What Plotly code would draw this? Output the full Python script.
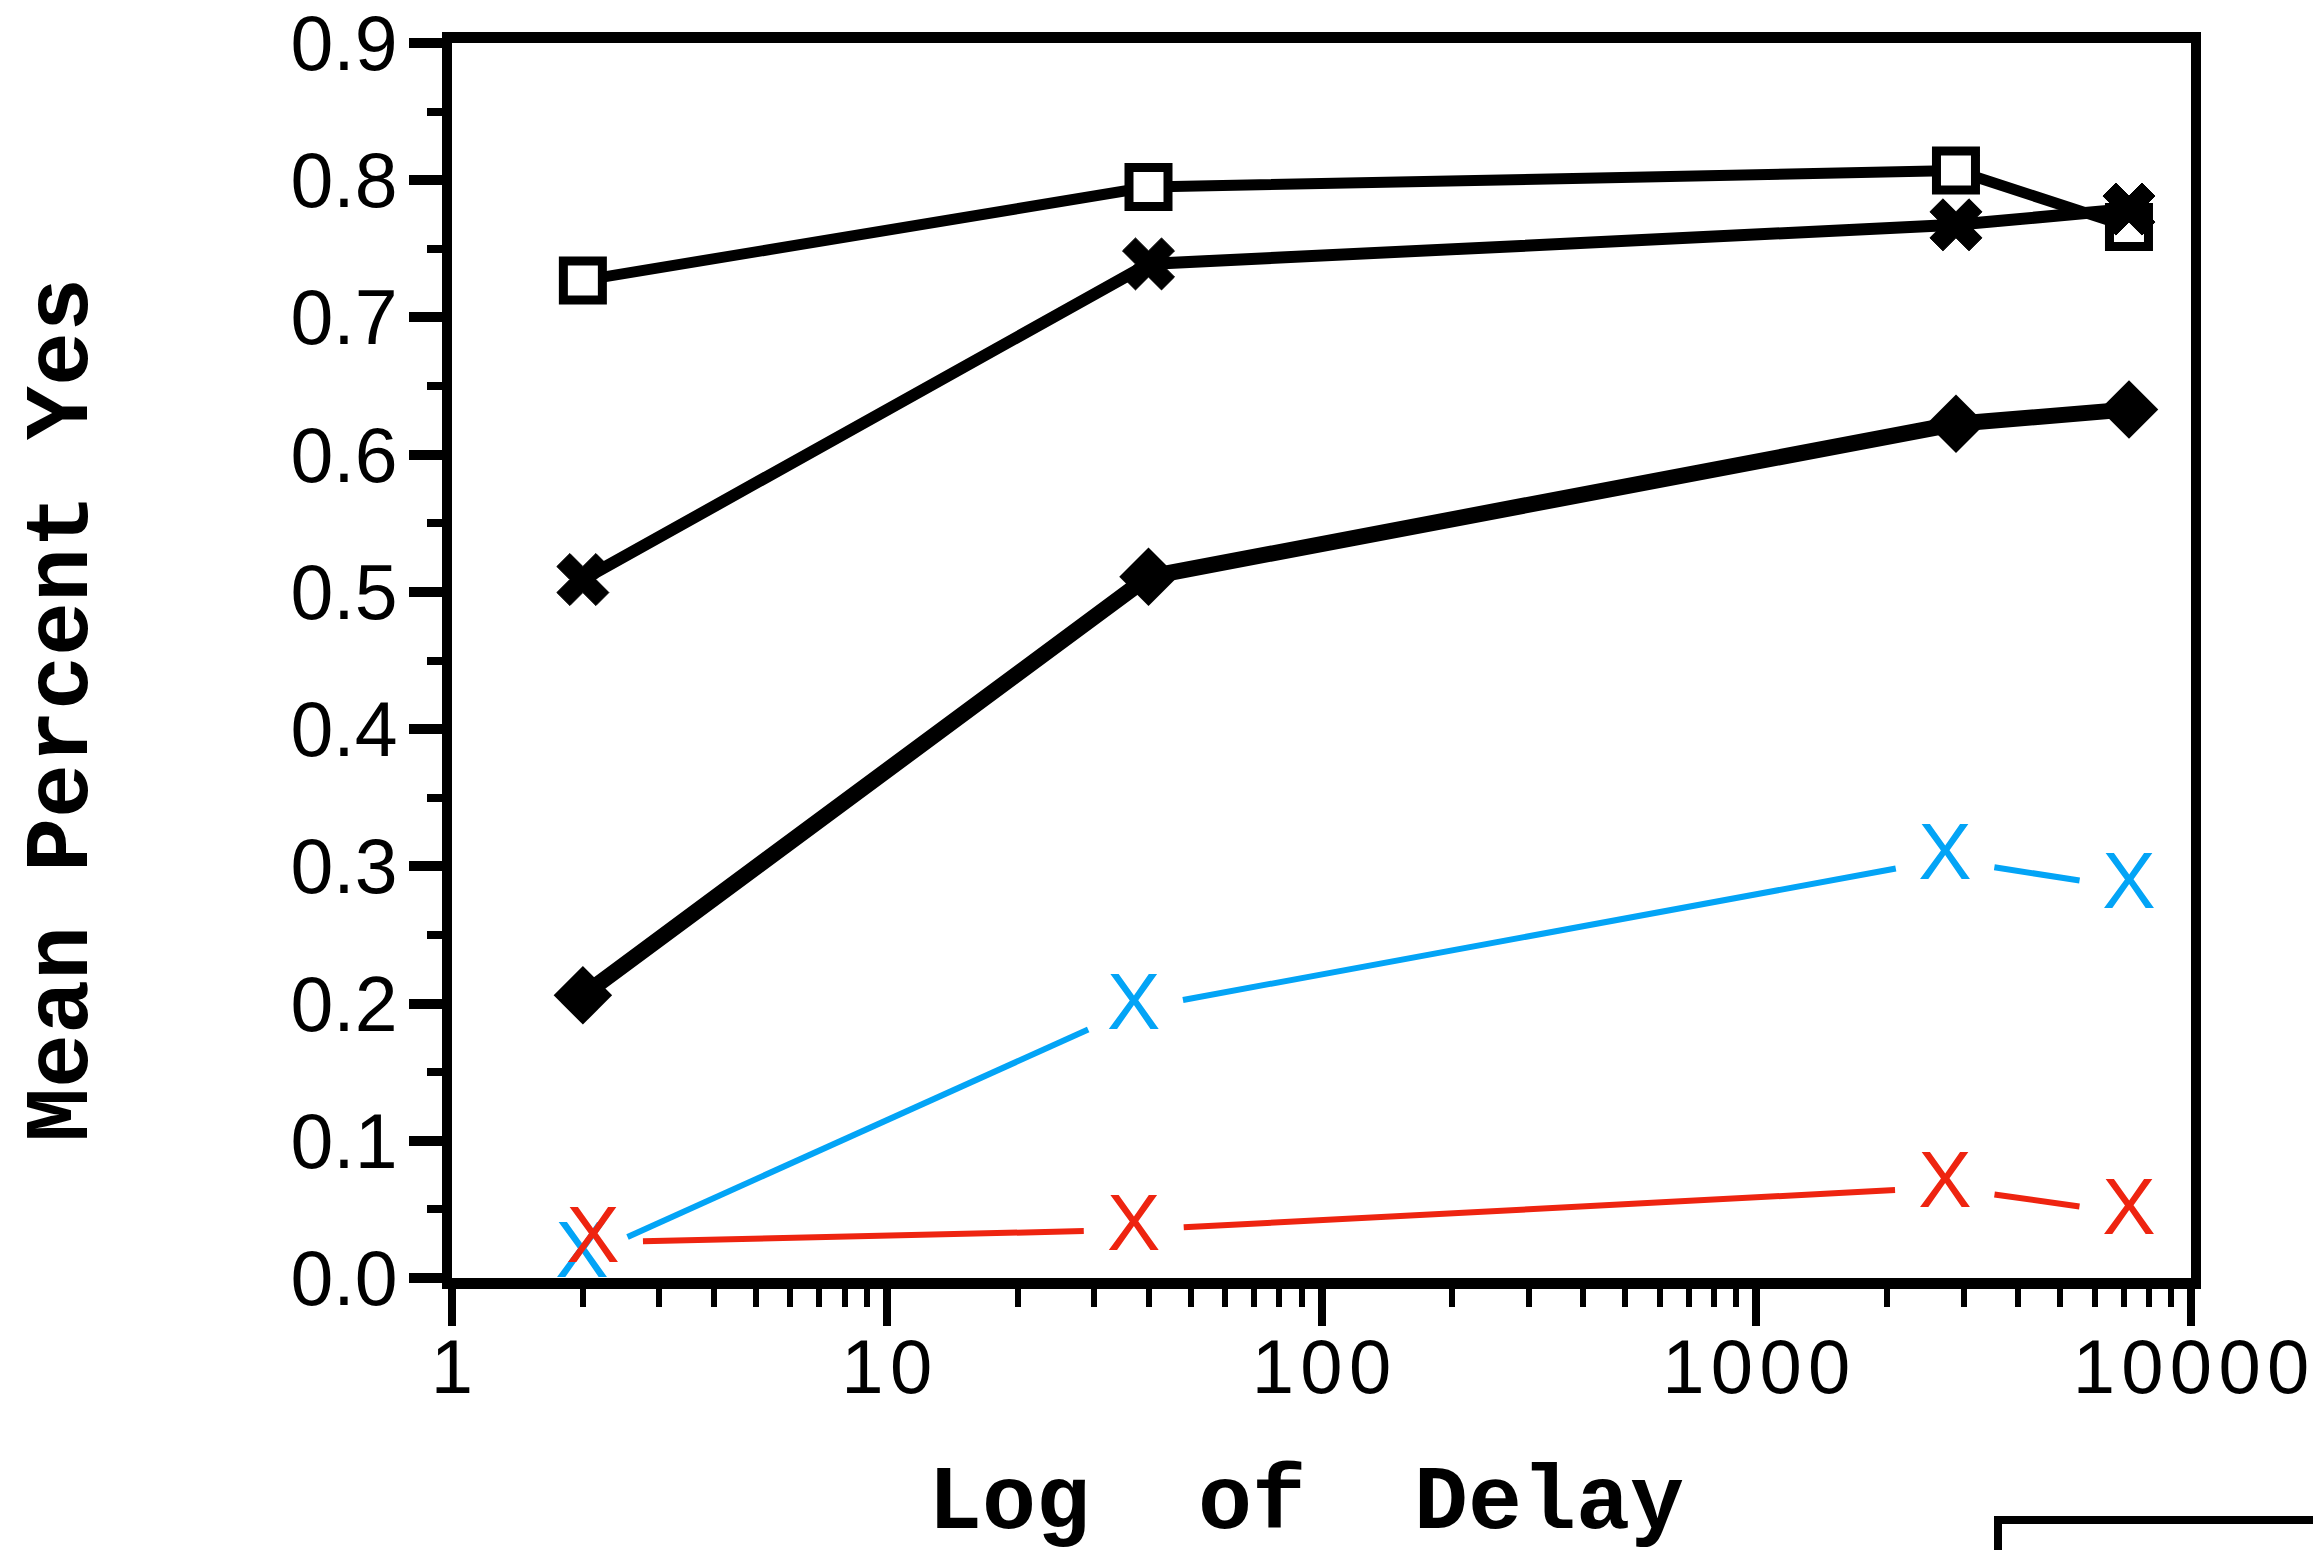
import math
import plotly.graph_objects as go

# ---------------- data ----------------
delay = [2, 40, 2880, 7200]
series_square = [0.727, 0.795, 0.807, 0.766]
series_cross = [0.509, 0.739, 0.7675, 0.779]
series_diamond = [0.206, 0.511, 0.6225, 0.633]

blue_delay = [1.99, 37, 2717, 7200]
blue_values = [0.015, 0.196, 0.305, 0.284]
red_delay = [2.11, 37, 2717, 7200]
red_values = [0.026, 0.035, 0.066, 0.047]

x_tick_vals = [1, 10, 100, 1000, 10000]
x_tick_text = ["1", "10", "100", "1000", "10000"]
y_tick_vals = [0.0, 0.1, 0.2, 0.3, 0.4, 0.5, 0.6, 0.7, 0.8, 0.9]

# ---------------- layout geometry ----------------
# the page body has an 8px default margin, so the figure is drawn 8px in
BODY = 8
W, H = 2321 - BODY, 1550 - BODY
PLOT_L, PLOT_R, PLOT_T, PLOT_B = 452, 2191, 43, 1278   # window pixels
ML, MT = PLOT_L - BODY, PLOT_T - BODY
PW, PH = PLOT_R - PLOT_L, PLOT_B - PLOT_T
MR, MB = W - ML - PW, H - MT - PH
X_LOG_RANGE = (0, 4)
Y_RANGE = (0, 0.9)
px_per_decade = PW / (X_LOG_RANGE[1] - X_LOG_RANGE[0])
px_per_unit = PH / (Y_RANGE[1] - Y_RANGE[0])
GAP = 50  # pixel gap between coloured connector lines and their X glyphs


def gapped_segments(xs, ys, gap):
    """Connector segments that stop short of each point (as in the picture)."""
    sx, sy = [], []
    for i in range(len(xs) - 1):
        ax, ay = math.log10(xs[i]) * px_per_decade, ys[i] * px_per_unit
        bx, by = math.log10(xs[i + 1]) * px_per_decade, ys[i + 1] * px_per_unit
        d = math.hypot(bx - ax, by - ay)
        ux, uy = (bx - ax) / d, (by - ay) / d
        p0 = (ax + ux * gap, ay + uy * gap)
        p1 = (bx - ux * gap, by - uy * gap)
        for p in (p0, p1):
            sx.append(10 ** (p[0] / px_per_decade))
            sy.append(p[1] / px_per_unit)
        sx.append(None)
        sy.append(None)
    return sx, sy


def px_x(wx):
    return (wx - PLOT_L) / PW


def px_y(wy):
    return (PLOT_B - wy) / PH


fig = go.Figure()

# black series
fig.add_trace(go.Scatter(
    x=delay, y=series_square, mode="lines+markers",
    line=dict(color="black", width=11),
    marker=dict(symbol="square", size=39, color="white",
                line=dict(color="black", width=9)),
    showlegend=False))
fig.add_trace(go.Scatter(
    x=delay, y=series_cross, mode="lines+markers",
    line=dict(color="black", width=12),
    marker=dict(symbol="x", size=46, color="black",
                line=dict(color="black", width=1)),
    showlegend=False))
fig.add_trace(go.Scatter(
    x=delay, y=series_diamond, mode="lines+markers",
    line=dict(color="black", width=16),
    marker=dict(symbol="diamond", size=45, color="black"),
    showlegend=False))

BLUE = "#03A4F6"
RED = "#EE2410"

bx, by = gapped_segments(blue_delay, blue_values, GAP)
rx, ry = gapped_segments(red_delay, red_values, GAP)
fig.add_trace(go.Scatter(x=bx, y=by, mode="lines",
                         line=dict(color=BLUE, width=6), showlegend=False))
fig.add_trace(go.Scatter(x=rx, y=ry, mode="lines",
                         line=dict(color=RED, width=6), showlegend=False))
fig.add_trace(go.Scatter(x=blue_delay, y=blue_values, mode="text",
                         text=["X"] * len(blue_delay), textposition="middle center",
                         textfont=dict(family="Liberation Sans", size=80, color=BLUE),
                         showlegend=False, cliponaxis=False))
fig.add_trace(go.Scatter(x=red_delay, y=red_values, mode="text",
                         text=["X"] * len(red_delay), textposition="middle center",
                         textfont=dict(family="Liberation Sans", size=80, color=RED),
                         showlegend=False, cliponaxis=False))

HAIR = "\u200a"
fig.update_xaxes(
    type="log", range=list(X_LOG_RANGE), automargin=False,
    tickmode="array", tickvals=x_tick_vals,
    ticktext=[HAIR.join(t) for t in x_tick_text],
    ticks="outside", ticklen=37, tickwidth=8, tickcolor="black",
    minor=dict(ticks="outside", ticklen=18, tickwidth=6, tickcolor="black",
               dtick="D1", showgrid=False),
    showline=True, linewidth=11, linecolor="black", mirror=True,
    showgrid=False, zeroline=False,
    tickfont=dict(family="Liberation Sans", size=76, color="black"),
    ticklabelstandoff=-24, ticklabeloverflow="allow")
fig.update_yaxes(
    range=list(Y_RANGE), automargin=False,
    tickmode="array", tickvals=y_tick_vals, tickformat=".1f",
    ticks="outside", ticklen=33, tickwidth=10, tickcolor="black",
    minor=dict(ticks="outside", ticklen=15, tickwidth=8, tickcolor="black",
               dtick=0.05, showgrid=False),
    showline=True, linewidth=10, linecolor="black", mirror=True,
    showgrid=False, zeroline=False,
    tickfont=dict(family="Liberation Sans", size=77, color="black"),
    ticklabelstandoff=-4, ticklabeloverflow="allow")

title_font = dict(family="Liberation Mono", size=90, color="black", weight="bold")
fig.add_annotation(text="Mean Percent Yes", xref="paper", yref="paper",
                   x=px_x(63), y=px_y(710),
                   xanchor="center", yanchor="middle", textangle=-90,
                   showarrow=False, font=title_font)
fig.add_annotation(text="Log\u00a0\u00a0of\u00a0\u00a0Delay", xref="paper", yref="paper",
                   x=px_x(1306), y=px_y(1504),
                   xanchor="center", yanchor="middle",
                   showarrow=False, font=title_font)

# partially visible box at the lower right edge of the picture
fig.add_shape(type="rect", xref="paper", yref="paper",
              x0=px_x(1998), x1=px_x(2400),
              y0=px_y(1520), y1=px_y(1700),
              line=dict(color="black", width=8), fillcolor="rgba(0,0,0,0)")

fig.update_layout(
    width=W, height=H,
    margin=dict(l=ML, r=MR, t=MT, b=MB, pad=0, autoexpand=False),
    plot_bgcolor="white", paper_bgcolor="white",
    showlegend=False)

fig.write_html("out.html")
